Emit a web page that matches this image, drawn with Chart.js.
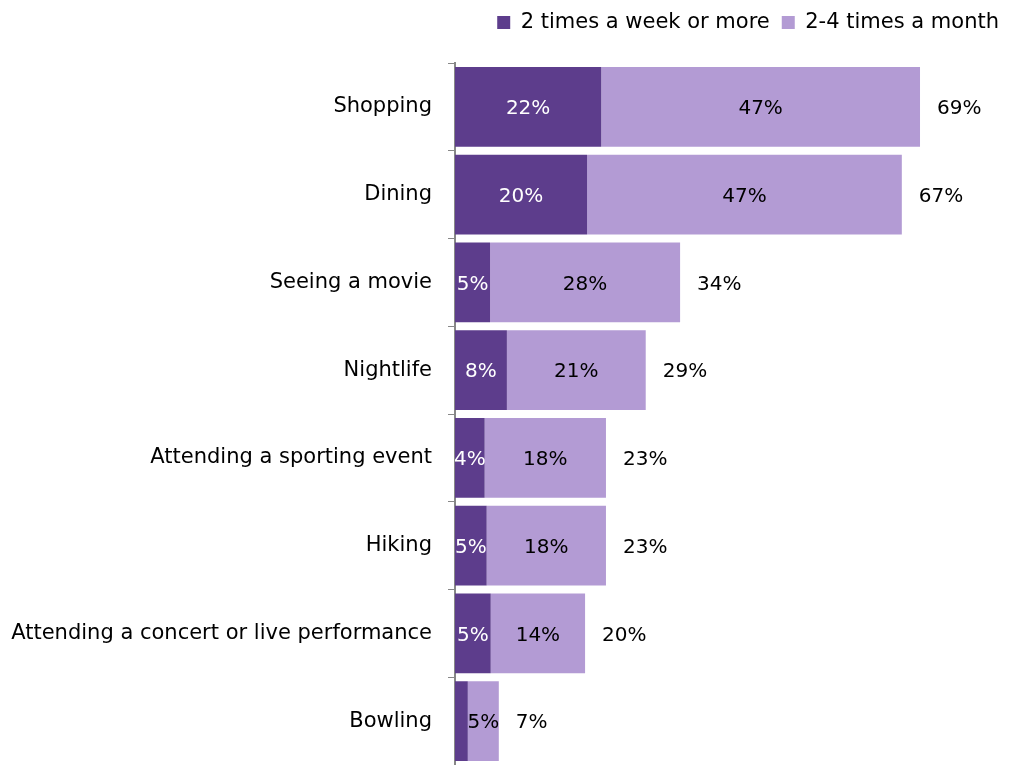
<!DOCTYPE html>
<html>
<head>
<meta charset="utf-8">
<script src="https://cdn.jsdelivr.net/npm/chart.js@4.4.1/dist/chart.umd.min.js"></script>
<style>
  html, body { margin: 0; padding: 0; background: #fff; }
  #wrap { width: 1011px; height: 765px; }
</style>
</head>
<body>
<div id="wrap"><canvas id="myChart"></canvas></div>
<script>
// data
const categories = ['Shopping', 'Dining', 'Seeing a movie', 'Nightlife', 'Attending a sporting event', 'Hiking', 'Attending a concert or live performance', 'Bowling'];
const weeklyValues = [21.7, 19.6, 5.2, 7.7, 4.4, 4.7, 5.3, 1.9];
const monthlyValues = [47.3, 46.7, 28.2, 20.6, 18.0, 17.7, 14.0, 4.6];
const weeklyLabels = ['22%', '20%', '5%', '8%', '4%', '5%', '5%', ''];
const monthlyLabels = ['47%', '47%', '28%', '21%', '18%', '18%', '14%', '5%'];
const totalLabels = ['69%', '67%', '34%', '29%', '23%', '23%', '20%', '7%'];

const FONT_FAMILY = '"DejaVu Sans", Verdana, sans-serif';
const LABEL_SIZE = 21;
const VALUE_SIZE = 20;

// draws the value labels inside the bars and the totals after them
const barLabels = {
    id: 'barLabels',
    afterDatasetsDraw(chart) {
        const ctx = chart.ctx;
        const textSets = [weeklyLabels, monthlyLabels];
        ctx.save();
        ctx.font = VALUE_SIZE + 'px ' + FONT_FAMILY;
        ctx.textBaseline = 'middle';
        chart.data.datasets.forEach((ds, i) => {
            chart.getDatasetMeta(i).data.forEach((bar, j) => {
                const txt = textSets[i][j];
                if (!txt) return;
                ctx.fillStyle = i === 0 ? '#ffffff' : '#000000';
                ctx.textAlign = 'center';
                ctx.fillText(txt, (bar.x + bar.base) / 2, bar.y + 2);
            });
        });
        chart.getDatasetMeta(1).data.forEach((bar, j) => {
            ctx.fillStyle = '#000000';
            ctx.textAlign = 'left';
            ctx.fillText(totalLabels[j], bar.x + 17, bar.y + 2);
        });
        ctx.restore();
    }
};

// extra room under the legend so the plot starts lower
const legendSpace = {
    id: 'legendSpace',
    beforeInit(chart) {
        const fit = chart.legend.fit;
        chart.legend.fit = function () {
            fit.bind(chart.legend)();
            this.height += 20;
        };
    }
};

document.addEventListener('DOMContentLoaded', () => {
    const ctx = document.getElementById('myChart').getContext('2d');
    new Chart(ctx, {
        type: 'bar',
        data: {
            labels: categories,
            datasets: [
                {
                    label: '2 times a week or more',
                    data: weeklyValues,
                    backgroundColor: '#5d3d8c',
                    barPercentage: 0.91,
                    categoryPercentage: 1
                },
                {
                    label: '2-4 times a month',
                    data: monthlyValues,
                    backgroundColor: '#b39bd4',
                    barPercentage: 0.91,
                    categoryPercentage: 1
                }
            ]
        },
        options: {
            indexAxis: 'y',
            responsive: true,
            maintainAspectRatio: false,
            animation: false,
            layout: { padding: { top: 0, right: 0, bottom: 0, left: 0 } },
            scales: {
                x: {
                    stacked: true,
                    display: false,
                    min: 0,
                    max: 82.5
                },
                y: {
                    stacked: true,
                    grid: {
                        display: true,
                        drawOnChartArea: false,
                        drawTicks: true,
                        tickLength: 7,
                        color: '#888888',
                        offset: true
                    },
                    border: { display: true, color: '#888888', width: 2 },
                    ticks: {
                        color: '#000000',
                        padding: 16,
                        font: { family: FONT_FAMILY, size: LABEL_SIZE }
                    },
                    afterFit(scale) {
                        scale.width = 455;
                        scale.paddingTop = 0;
                        scale.paddingBottom = 0;
                    }
                }
            },
            plugins: {
                legend: {
                    position: 'top',
                    align: 'end',
                    labels: {
                        boxWidth: 13,
                        boxHeight: 13,
                        padding: 12,
                        color: '#000000',
                        font: { family: FONT_FAMILY, size: LABEL_SIZE }
                    }
                },
                tooltip: { enabled: false }
            }
        },
        plugins: [barLabels, legendSpace]
    });
});
</script>
</body>
</html>
